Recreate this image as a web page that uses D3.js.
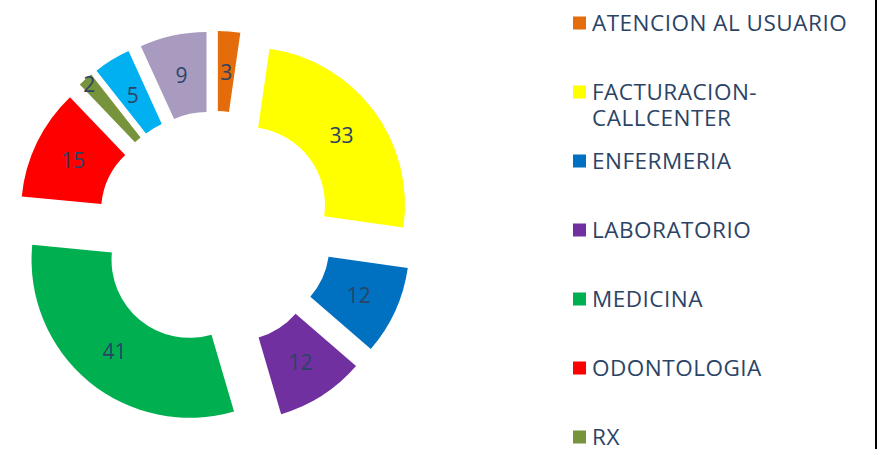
<!DOCTYPE html>
<html>
<head>
<meta charset="utf-8">
<script src="https://cdn.jsdelivr.net/npm/d3@7"></script>
<style>
  html, body { margin: 0; padding: 0; background: #fff; }
  svg { display: block; }
</style>
</head>
<body>
<svg id="chart" width="879" height="449"></svg>
<script>
// ---- data ----
const categories = [
  "ATENCION AL USUARIO",
  "FACTURACION-CALLCENTER",
  "ENFERMERIA",
  "LABORATORIO",
  "MEDICINA",
  "ODONTOLOGIA",
  "RX",
  "OTRO (1)",
  "OTRO (2)"
];
const values = [3, 33, 12, 12, 41, 15, 2, 5, 9];
const colors = ["#E46C0A", "#FFFF00", "#0070C0", "#7030A0", "#00B050", "#FF0000", "#77933C", "#00B0F0", "#A89BBF"];

// ---- layout ----
const W = 879, H = 449;
const cx = 215, cy = 229;
const rInner = 78, rOuter = 158;
const explode = 40;
const textColor = "#2B4466";

const svg = d3.select("#chart");

const pie = d3.pie().sort(null).value(d => d.value).startAngle(0).endAngle(2 * Math.PI);
const arc = d3.arc().innerRadius(rInner).outerRadius(rOuter);

const data = categories.map((c, i) => ({ name: c, value: values[i], color: colors[i] }));
const arcs = pie(data);

const g = svg.append("g").attr("transform", `translate(${cx},${cy})`);

const slices = g.selectAll("g.slice").data(arcs).enter().append("g")
  .attr("class", "slice")
  .attr("transform", d => {
    const a = (d.startAngle + d.endAngle) / 2;
    return `translate(${Math.sin(a) * explode},${-Math.cos(a) * explode})`;
  });

slices.append("path")
  .attr("d", arc)
  .attr("fill", d => d.data.color);

function labelR(d) {
  return (d.endAngle - d.startAngle) < 0.12 ? rOuter - 6 : (rInner + rOuter) / 2;
}
slices.append("text")
  .attr("x", d => Math.sin((d.startAngle + d.endAngle) / 2) * labelR(d))
  .attr("y", d => -Math.cos((d.startAngle + d.endAngle) / 2) * labelR(d))
  .attr("dy", "0.4em")
  .attr("text-anchor", "middle")
  .attr("font-family", "'Open Sans', sans-serif")
  .attr("font-size", 21)
  .attr("fill", textColor)
  .text(d => d.data.value);

// ---- legend ----
const legX = 573, legTextX = 592, legY0 = 23, legStep = 69, sq = 13, lineH = 26;
const maxW = 275;
const leg = svg.append("g");
data.forEach((d, i) => {
  const y = legY0 + i * legStep;
  leg.append("rect")
    .attr("x", legX).attr("y", y - sq / 2)
    .attr("width", sq).attr("height", sq)
    .attr("fill", d.color);
  const t = leg.append("text")
    .attr("x", legTextX).attr("y", y)
    .attr("dy", "0.36em")
    .attr("font-family", "'Open Sans', sans-serif")
    .attr("font-size", 22.5)
    .attr("letter-spacing", 0.5)
    .attr("fill", textColor)
    .text(d.name);
  if (t.node().getComputedTextLength() > maxW && d.name.includes("-")) {
    const k = d.name.indexOf("-") + 1;
    t.text(null);
    t.append("tspan").attr("x", legTextX).text(d.name.slice(0, k));
    t.append("tspan").attr("x", legTextX).attr("dy", lineH).text(d.name.slice(k));
  }
});

// right frame edge
svg.append("line")
  .attr("x1", 876).attr("x2", 876).attr("y1", 0).attr("y2", H)
  .attr("stroke", "#000").attr("stroke-width", 2);
</script>
</body>
</html>
